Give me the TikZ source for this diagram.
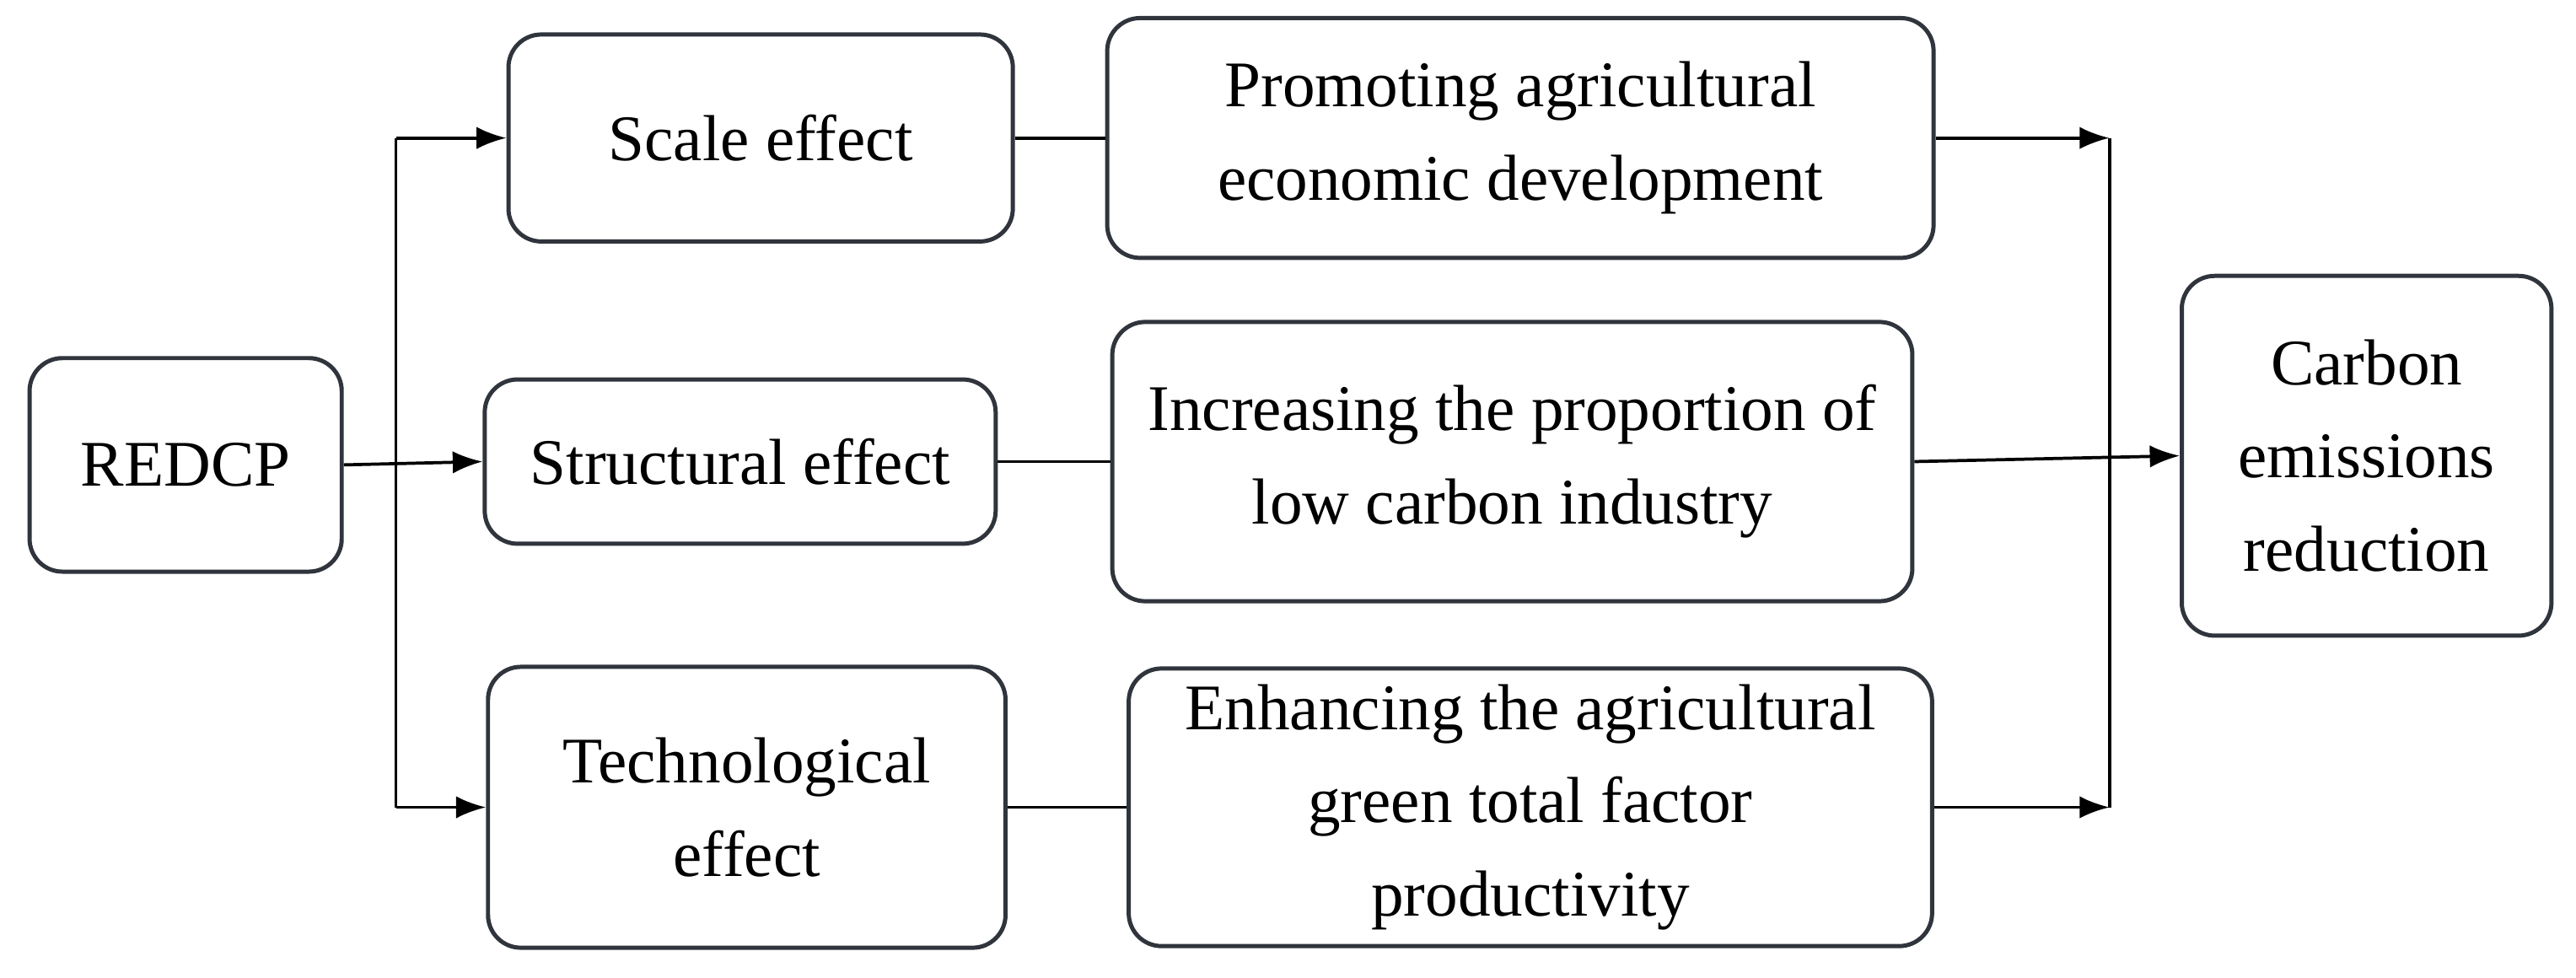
\documentclass[tikz,border=0pt]{standalone}
\usepackage{fontspec}
\setmainfont{Liberation Serif}
\usetikzlibrary{arrows.meta, positioning}
\tikzset{
	effectbox/.style = {draw=boxgray, line width=0.8pt, rounded corners=2.2mm, align=center, inner sep=0pt, font=\fontsize{12.4}{17.8}\selectfont},
	link/.style = {line width=0.6pt},
	flow/.style = {link, -{Latex[length=2mm, width=1.5mm]}},
}
\definecolor{boxgray}{HTML}{30343C}

\begin{document}
\begin{tikzpicture}
			\useasboundingbox (0,0) rectangle (17.248,6.545);
			\node[effectbox, minimum width=2.09cm, minimum height=1.43cm]  (redcp)      at (1.243,3.432)  {REDCP};
			\node[effectbox, minimum width=3.377cm, minimum height=1.386cm] (scale)      at (5.093,5.621)  {Scale effect};
			\node[effectbox, minimum width=3.421cm, minimum height=1.10cm]  (structural) at (4.956,3.454)  {Structural effect};
			\node[effectbox, minimum width=3.465cm, minimum height=1.881cm] (tech)       at (5.0,1.139)    {Technological\\effect};
			\node[effectbox, minimum width=5.533cm, minimum height=1.606cm] (promoting)  at (10.18,5.621)  {Promoting agricultural\\economic development};
			\node[effectbox, minimum width=5.357cm, minimum height=1.87cm]  (increasing) at (10.126,3.454) {Increasing the proportion of\\low carbon industry};
			\node[effectbox, minimum width=5.379cm, minimum height=1.859cm] (enhancing)  at (10.247,1.139) {Enhancing the agricultural\\green total factor\\productivity};
			\node[effectbox, minimum width=2.475cm, minimum height=2.409cm] (carbon)     at (15.846,3.493) {Carbon\\emissions\\reduction};
			\coordinate (lt) at (2.651,5.621);
			\coordinate (lb) at (2.651,1.139);
			\coordinate (rt) at (14.124,5.621);
			\coordinate (rb) at (14.124,1.139);
			\draw[link] (lt) -- (lb);
			\draw[flow] (lt) -- (scale.west);
			\draw[flow] (redcp.east) -- (structural.west);
			\draw[flow] (lb) -- (tech.west);
			\draw[link] (scale.east) -- (promoting.west);
			\draw[link] (structural.east) -- (increasing.west);
			\draw[link] (tech.east) -- (enhancing.west);
			\draw[link] (rt) -- (rb);
			\draw[flow] (promoting.east) -- (rt);
			\draw[flow] (enhancing.east) -- (rb);
			\draw[flow] (increasing.east) -- (carbon.west);
		\end{tikzpicture}
\end{document}
